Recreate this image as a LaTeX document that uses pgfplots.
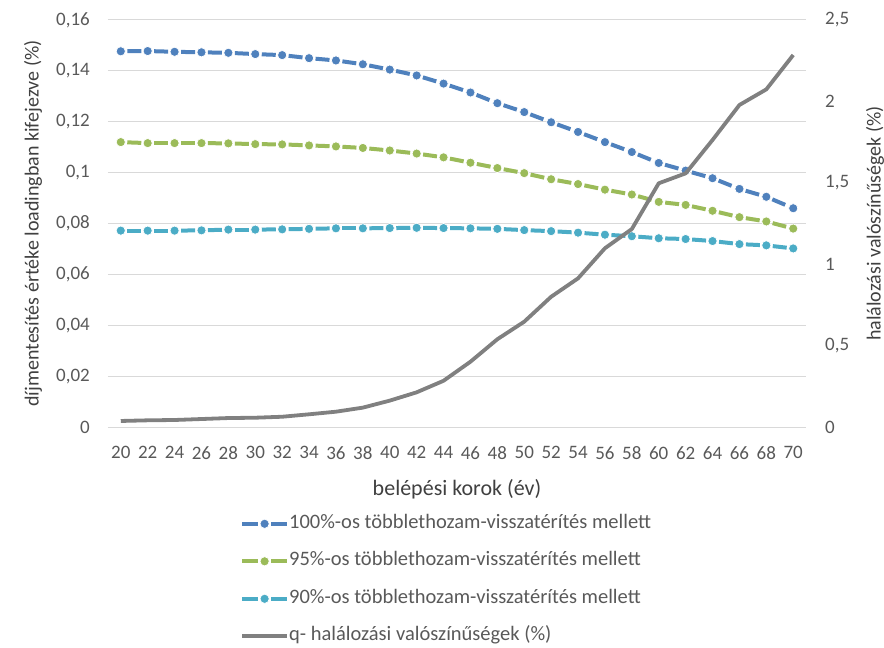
\documentclass[border=0pt]{standalone}
\usepackage{pgfplots}
\usepackage{pgfplotstable}
\pgfplotsset{compat=1.18}
\usepackage{fontspec}
\setmainfont{Carlito}

\definecolor{cblue}{HTML}{4F81BD}
\definecolor{cgreen}{HTML}{9BBB59}
\definecolor{cteal}{HTML}{4BACC6}
\definecolor{cgray}{HTML}{808080}
\definecolor{ctext}{HTML}{595959}
\definecolor{ctitle}{HTML}{404040}
\definecolor{cgrid}{HTML}{D9D9D9}

% belépési kor, díjmentesítés értéke (három visszatérítési szint), halálozási valószínűség
\pgfplotstableread{
age p100   p95    p90    q
20  0.1477 0.1120 0.0772 0.037
22  0.1478 0.1116 0.0772 0.041
24  0.1475 0.1116 0.0772 0.043
26  0.1473 0.1116 0.0773 0.049
28  0.1471 0.1115 0.0776 0.055
30  0.1466 0.1112 0.0776 0.057
32  0.1462 0.1111 0.0777 0.063
34  0.1450 0.1107 0.0779 0.078
36  0.1441 0.1103 0.0781 0.094
38  0.1426 0.1097 0.0781 0.119
40  0.1405 0.1087 0.0782 0.162
42  0.1382 0.1075 0.0783 0.213
44  0.1350 0.1060 0.0782 0.284
46  0.1315 0.1039 0.0781 0.401
48  0.1273 0.1018 0.0779 0.539
50  0.1238 0.0998 0.0774 0.647
52  0.1198 0.0974 0.0770 0.800
54  0.1160 0.0955 0.0764 0.913
56  0.1120 0.0933 0.0756 1.098
58  0.1081 0.0914 0.0750 1.216
60  0.1038 0.0885 0.0742 1.497
62  0.1008 0.0873 0.0739 1.558
64  0.0978 0.0850 0.0731 1.763
66  0.0936 0.0825 0.0719 1.978
68  0.0905 0.0808 0.0714 2.074
70  0.0860 0.0780 0.0702 2.285
}\data

\newcommand{\lblfont}{\fontsize{19}{23}\selectfont}
\newcommand{\ttlfont}{\fontsize{20}{24}\selectfont}

\pgfplotsset{
  base/.style={
    scale only axis, width=698pt, height=407pt,
    xmin=19.05, xmax=70.95,
    axis line style={draw=none},
    major tick length=0pt, tick style={draw=none},
    /pgf/number format/assume math mode=true,
    /pgf/number format/use comma,
    ticklabel style={font=\lblfont, text=ctext, inner sep=0pt},
    label style={font=\ttlfont, text=ctitle},
  },
  % dashed line drawn segment by segment, so the dash restarts at every point
  dseries/.style={
    forget plot,
    mesh, colormap={c#1}{color=(#1) color=(#1)},
    line width=4pt, dash pattern=on 14pt off 13pt, dash phase=20.5pt,
    mark=*, mark size=4.6pt,
    mark options={solid, draw=white, line width=0.7pt, fill=#1},
  },
  % legend key: short line, dot in the middle
  dlegend/.style={
    legend image code/.code={
      \draw[#1, line width=4pt, solid] (0pt,0pt) -- (16pt,0pt);
      \draw[#1, line width=4pt, solid] (29pt,0pt) -- (45pt,0pt);
      \fill[#1, draw=white, line width=0.7pt, solid] (22.5pt,0pt) circle (4.6pt);
    },
  },
  gline/.style={
    color=cgray, line width=3.8pt, line join=round,
    legend image code/.code={\draw (0pt,0pt) -- (45pt,0pt);},
  },
}

\begin{document}
\begin{tikzpicture}
\useasboundingbox (-108pt,-221pt) rectangle (776pt,427pt);

\begin{axis}[
  base,
  ymin=0, ymax=0.16,
  ytick={0,0.02,0.04,0.06,0.08,0.1,0.12,0.14,0.16},
  yticklabel style={/pgf/number format/fixed, xshift=-18pt},
  xtick={20,22,...,70},
  xticklabel style={yshift=-19pt},
  ymajorgrids, grid style={cgrid, line width=1pt},
  xlabel={belépési korok (év)},
  xlabel style={at={(axis description cs:0.5,-0.152)}, anchor=center,
                font=\fontsize{22}{26}\selectfont},
  ylabel={díjmentesítés értéke loadingban kifejezve (\%)},
  ylabel style={at={(axis description cs:-0.1075,0.5)}, anchor=center},
  legend cell align=left,
  legend style={
    at={(axis description cs:0.189,-0.214)}, anchor=north west,
    draw=none, fill=none, font=\fontsize{20.5}{24}\selectfont, text=ctext,
    row sep=18.5pt, inner sep=0pt,
    nodes={inner sep=0pt, text height=14pt, text depth=5pt},
    /tikz/every even column/.append style={column sep=3pt},
  },
]
\addplot[dseries=cblue]  table[x=age, y=p100, meta=p100] {\data};
\addplot[dseries=cgreen] table[x=age, y=p95, meta=p95]  {\data};
\addplot[dseries=cteal]  table[x=age, y=p90, meta=p90]  {\data};

\addlegendimage{dlegend=cblue}
\addlegendentry{100\%-os többlethozam-visszatérítés mellett}
\addlegendimage{dlegend=cgreen}
\addlegendentry{95\%-os többlethozam-visszatérítés mellett}
\addlegendimage{dlegend=cteal}
\addlegendentry{90\%-os többlethozam-visszatérítés mellett}
\addlegendimage{gline}
\addlegendentry{q- halálozási valószínűségek (\%)}
\end{axis}

\begin{axis}[
  base,
  hide x axis,
  axis y line*=right,
  ymin=0, ymax=2.5,
  ytick={0,0.5,1,1.5,2,2.5},
  yticklabel style={anchor=west, xshift=19pt},
  ylabel={halálozási valószínűségek (\%)},
  ylabel style={at={(axis description cs:1.099,0.5)}, anchor=center, rotate=0},
]
\addplot[gline] table[x=age, y=q] {\data};
\end{axis}
\end{tikzpicture}
\end{document}
